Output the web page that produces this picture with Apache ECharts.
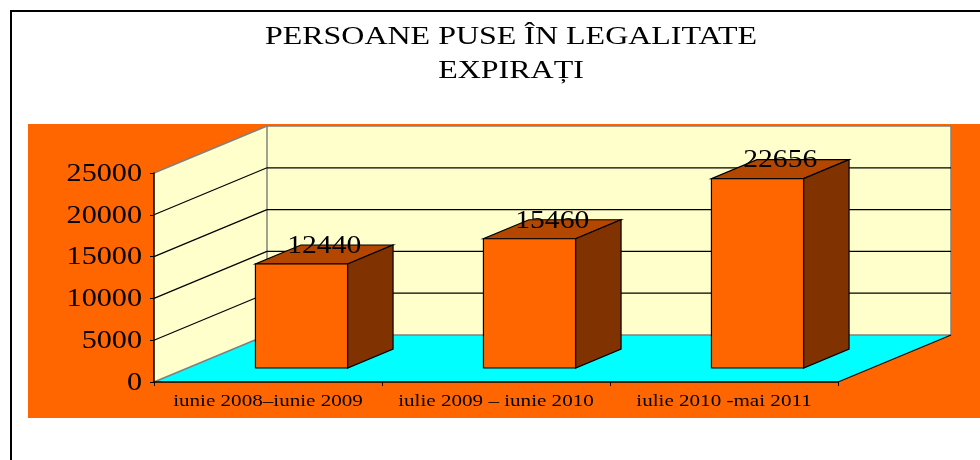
<!DOCTYPE html>
<html><head><meta charset="utf-8">
<style>html,body{margin:0;padding:0;background:#fff}#c{width:980px;height:460px}</style>
<script src="https://cdn.jsdelivr.net/npm/echarts@6/dist/echarts.min.js"></script>
</head><body><div id="c"></div>
<script>
const categories = ['iunie 2008–iunie 2009', 'iulie 2009 – iunie 2010', 'iulie 2010 -mai 2011'];
const values = [12440, 15460, 22656];
const yTickLabels = ['0', '5000', '10000', '15000', '20000', '25000'];
const titleText = 'PERSOANE PUSE ÎN LEGALITATE\nEXPIRAȚI';

const FONT = '"Liberation Serif","Times New Roman",serif';
const WALL_DX = 113, WALL_DY = 47;   // perspective offset of the back wall
const BAR_DX = 45.5, BAR_DY = 19;    // perspective depth of a bar
const BAR_SHIFT_X = 33.5, BAR_SHIFT_Y = 14; // bar position inside the floor
const BAR_WIDTH_RATIO = 0.404;
const TEXT_STRETCH = {title: 1.23, y: 1.16, x: 1.24, bar: 1.14}; // the reference's type is drawn wider than normal

const chart = echarts.init(document.getElementById('c'), null, {renderer: 'canvas'});

function poly(points, fill, stroke, lineWidth) {
  return {type: 'polygon', shape: {points}, style: {fill, stroke: stroke || 'none', lineWidth: lineWidth || 0}};
}
function seg(a, b, stroke, lineWidth) {
  return {type: 'line', shape: {x1: a[0], y1: a[1], x2: b[0], y2: b[1]}, style: {stroke, lineWidth: lineWidth || 1}};
}
function wideText(text, x, y, stretch, size, align) {
  return {type: 'text', x, y, scaleX: stretch, z2: 10, style: {
    x: 0, y: 0, text, align, verticalAlign: 'middle', font: size + 'px ' + FONT, fill: '#000'
  }};
}

function renderWalls(params, api) {
  const o = api.coord([0, 0]), top = api.coord([0, 25000]);
  const cs = params.coordSys;
  const x0 = cs.x, x1 = cs.x + cs.width, yb = o[1], yt = top[1];
  const gray = '#808080';
  return {type: 'group', children: [
    poly([[x0, yb], [x0 + WALL_DX, yb - WALL_DY], [x0 + WALL_DX, yt - WALL_DY], [x0, yt]], '#FFFFCC'),
    poly([[x0 + WALL_DX, yb - WALL_DY], [x1 + WALL_DX, yb - WALL_DY], [x1 + WALL_DX, yt - WALL_DY], [x0 + WALL_DX, yt - WALL_DY]], '#FFFFCC'),
    poly([[x0, yb], [x1, yb], [x1 + WALL_DX, yb - WALL_DY], [x0 + WALL_DX, yb - WALL_DY]], '#00FFFF'),
    seg([x0, yt], [x0 + WALL_DX, yt - WALL_DY], gray, 1.5),
    seg([x0 + WALL_DX, yt - WALL_DY], [x1 + WALL_DX, yt - WALL_DY], gray, 1.5),
    seg([x0 + WALL_DX, yt - WALL_DY], [x0 + WALL_DX, yb - WALL_DY], gray, 1.5),
    seg([x1 + WALL_DX, yt - WALL_DY], [x1 + WALL_DX, yb - WALL_DY], gray, 1.5),
    seg([x0, yb], [x0 + WALL_DX, yb - WALL_DY], gray, 1.5),
    seg([x0 + WALL_DX, yb - WALL_DY], [x1 + WALL_DX, yb - WALL_DY], gray, 1.5),
    seg([x1, yb], [x1 + WALL_DX, yb - WALL_DY], '#000', 1.2)
  ]};
}

function renderGridLine(params, api) {
  const p = api.coord([0, api.value(0)]);
  const cs = params.coordSys;
  const x0 = cs.x, x1 = cs.x + cs.width, y = p[1];
  const children = [];
  if (api.value(0) > 0 && api.value(0) < 25000) {
    children.push(seg([x0, y], [x0 + WALL_DX, y - WALL_DY], '#000', 1.2));
    children.push(seg([x0 + WALL_DX, y - WALL_DY], [x1 + WALL_DX, y - WALL_DY], '#000', 1.2));
  }
  return {type: 'group', children};
}

function renderYLabel(params, api) {
  const p = api.coord([0, api.value(0)]);
  return wideText(yTickLabels[params.dataIndex], params.coordSys.x - 12, p[1] + 1, TEXT_STRETCH.y, 26, 'right');
}

function renderXLabel(params, api) {
  const p = api.coord([api.value(0), 0]);
  return wideText(categories[params.dataIndex], p[0], p[1] + 20, TEXT_STRETCH.x, 17, 'center');
}

function renderBar(params, api) {
  const idx = api.value(0), val = api.value(1);
  const base = api.coord([idx, 0]), head = api.coord([idx, val]);
  const w = api.size([1, 0])[0] * BAR_WIDTH_RATIO;
  const l = base[0] + BAR_SHIFT_X - w / 2, r = l + w;
  const b = base[1] - BAR_SHIFT_Y, t = head[1] - BAR_SHIFT_Y;
  const s = '#000';
  return {type: 'group', children: [
    poly([[l, t], [r, t], [r + BAR_DX, t - BAR_DY], [l + BAR_DX, t - BAR_DY]], '#B34700', s, 1.2),
    poly([[r, t], [r + BAR_DX, t - BAR_DY], [r + BAR_DX, b - BAR_DY], [r, b]], '#803300', s, 1.2),
    poly([[l, t], [r, t], [r, b], [l, b]], '#FF6600', s, 1.2),
    wideText(String(val), (l + r + BAR_DX) / 2, t - BAR_DY + 1, TEXT_STRETCH.bar, 26, 'center')
  ]};
}

chart.setOption({
  backgroundColor: '#fff',
  animation: false,
  graphic: [
    {type: 'rect', z: -2, shape: {x: 11, y: 11, width: 1100, height: 1100}, style: {fill: 'none', stroke: '#000', lineWidth: 2}},
    {type: 'rect', z: -1, shape: {x: 28, y: 124, width: 952, height: 294}, style: {fill: '#FF6600'}},
    {type: 'text', z: 5, x: 511, y: 20, scaleX: TEXT_STRETCH.title, style: {
      x: 0, y: 0, text: titleText, align: 'center', verticalAlign: 'top',
      font: '26px ' + FONT, lineHeight: 34, fill: '#000'
    }}
  ],
  grid: {left: 154, top: 173, width: 684, height: 209, show: false},
  xAxis: {
    type: 'category', data: categories, z: 5,
    axisLine: {show: true, lineStyle: {color: '#000', width: 1.5}},
    axisTick: {show: true, alignWithLabel: false, length: 4, lineStyle: {color: '#000', width: 1}},
    axisLabel: {show: false},
    splitLine: {show: false}
  },
  yAxis: {
    type: 'value', min: 0, max: 25000, interval: 5000, z: 5,
    axisLine: {show: true, lineStyle: {color: '#000', width: 1.5}},
    axisTick: {show: true, length: 4, lineStyle: {color: '#000', width: 1}},
    axisLabel: {show: false},
    splitLine: {show: false}
  },
  series: [
    {type: 'custom', name: 'walls', coordinateSystem: 'cartesian2d', z: 1, silent: true,
     renderItem: renderWalls, data: [[0, 0]], encode: {x: 0, y: 1}},
    {type: 'custom', name: 'gridlines', coordinateSystem: 'cartesian2d', z: 2, silent: true,
     renderItem: renderGridLine, data: yTickLabels.map(v => [Number(v)]), encode: {y: 0}},
    {type: 'custom', name: 'Expirați', coordinateSystem: 'cartesian2d', z: 3,
     renderItem: renderBar, data: values.map((v, i) => [i, v]), encode: {x: 0, y: 1}},
    {type: 'custom', name: 'yLabels', coordinateSystem: 'cartesian2d', z: 6, silent: true,
     renderItem: renderYLabel, data: yTickLabels.map(v => [Number(v)]), encode: {y: 0}},
    {type: 'custom', name: 'xLabels', coordinateSystem: 'cartesian2d', z: 6, silent: true,
     renderItem: renderXLabel, data: categories.map((c, i) => [i]), encode: {x: 0}}
  ]
});
</script></body></html>
